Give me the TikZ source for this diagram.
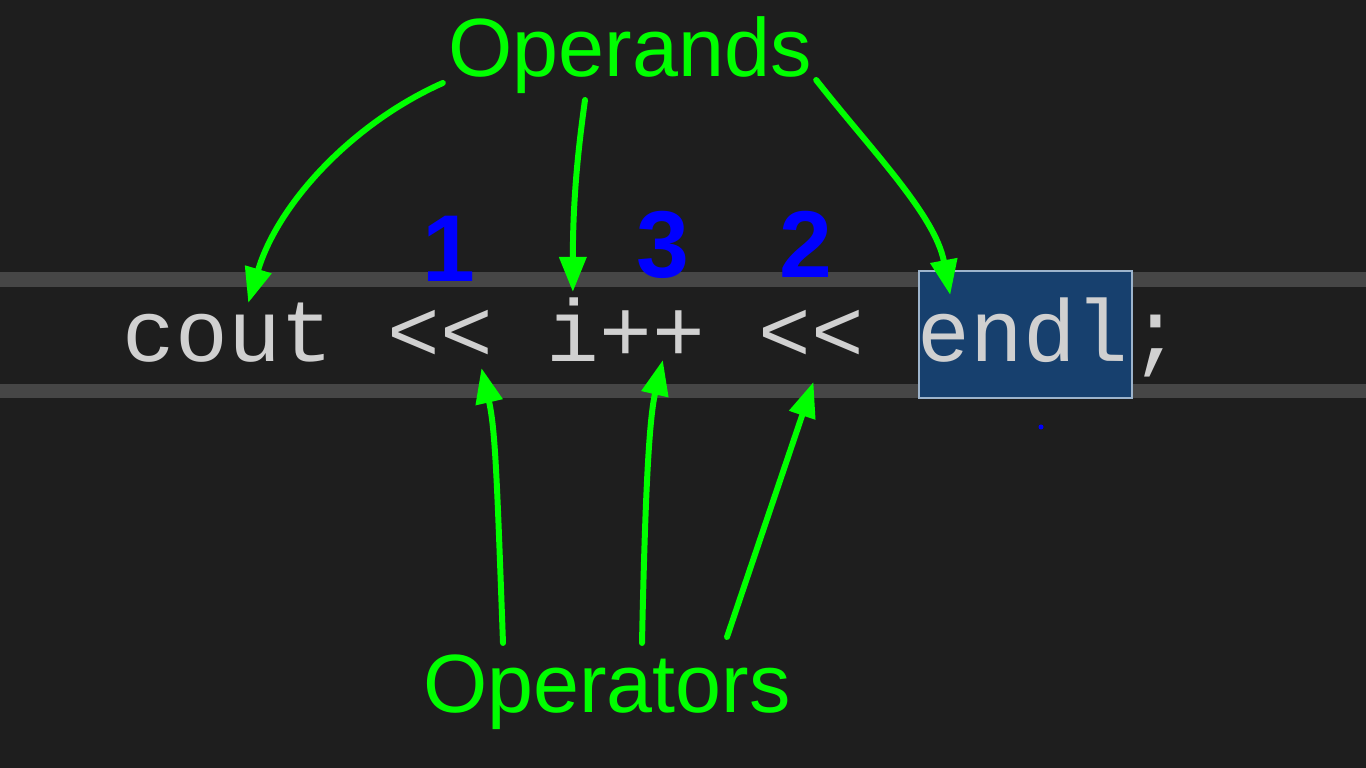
\documentclass[tikz,border=0pt]{standalone}
\usepackage{fontspec}
\setmainfont{Liberation Sans}
\newfontfamily\codefont{Liberation Mono}
\usepackage{tikz}
\usetikzlibrary{positioning, arrows.meta}

\definecolor{editorbg}{HTML}{1E1E1E}
\definecolor{linebar}{HTML}{464646}
\definecolor{codegray}{HTML}{D0D0D0}
\definecolor{selblue}{HTML}{17406E}
\definecolor{selborder}{HTML}{9DB4CC}
\definecolor{markgreen}{HTML}{00FF00}
\definecolor{markblue}{HTML}{0000FF}

\tikzset{
  token/.style={anchor=base west, inner sep=0pt, text=codegray,
    font=\codefont\fontsize{25pt}{30pt}\selectfont},
  greentag/.style={anchor=base, inner sep=0pt, text=markgreen,
    font=\fontsize{23.5pt}{28pt}\selectfont},
  ordnum/.style={anchor=base, inner sep=0pt, text=markblue,
    font=\bfseries\fontsize{27pt}{32pt}\selectfont},
  pointer/.style={draw=markgreen, line width=1.7pt, line cap=round,
    -{Triangle[length=10pt, width=7.5pt]}},
}

\begin{document}
\begin{tikzpicture}[x=0.01cm, y=-0.01cm]
            % editor background and current-line bars
            \fill [editorbg] (0, 0) rectangle (1366, 768);
            \useasboundingbox (0, 0) rectangle (1366, 768);
            \fill [linebar] (0, 272) rectangle (1366, 287);
            \fill [linebar] (0, 384) rectangle (1366, 398);
            \filldraw [fill=selblue, draw=selborder, line width=0.6pt] (919, 271) rectangle (1132, 398);

            % the statement, one node per token
            \node [token] (cout) at (122, 362) {cout};
            \node [token] (shlA) at (387, 362) {<<};
            \node [token] (incr) at (546, 362) {i++};
            \node [token] (shlB) at (758, 362) {<<};
            \node [token] (endl) at (917, 362) {endl};
            \node [token] (semi) at (1129, 362) {;};

            % evaluation order
            \node [ordnum] (ordA) at (449, 282) {1};
            \node [ordnum] (ordC) at (663, 278) {3};
            \node [ordnum] (ordB) at (806, 278) {2};
            \fill [markblue] (1041, 427) circle (2.5);

            \node [greentag] (opnd) at (630, 77) {Operands};
            \node [greentag] (oper) at (607, 713) {Operators};

            \draw [pointer] ([shift={(-5, 6)}]opnd.base west)
                .. controls +(-90, 40) and +(30, -100) .. ([shift={(20, -59)}]cout.base);
            \draw [pointer] ([shift={(-45, 23)}]opnd.base)
                .. controls +(-7, 50) and +(0, -92) .. ([shift={(-53, -70)}]incr.base);
            \draw [pointer] ([shift={(4, 3)}]opnd.base east)
                .. controls +(55, 70) and +(-15, -80) .. ([shift={(-73, -67)}]endl.base);

            \draw [pointer] ([shift={(-104, -70)}]oper.base)
                .. controls +(-6, -163) and +(14, 62) .. ([shift={(41, 6)}]shlA.base);
            \draw [pointer] ([shift={(35, -70)}]oper.base)
                .. controls +(3, -143) and +(-14, 60) .. ([shift={(37, -2)}]incr.base);
            \draw [pointer] ([shift={(120, -76)}]oper.base) -- ([shift={(2, 20)}]shlB.base);
        \end{tikzpicture}
\end{document}
